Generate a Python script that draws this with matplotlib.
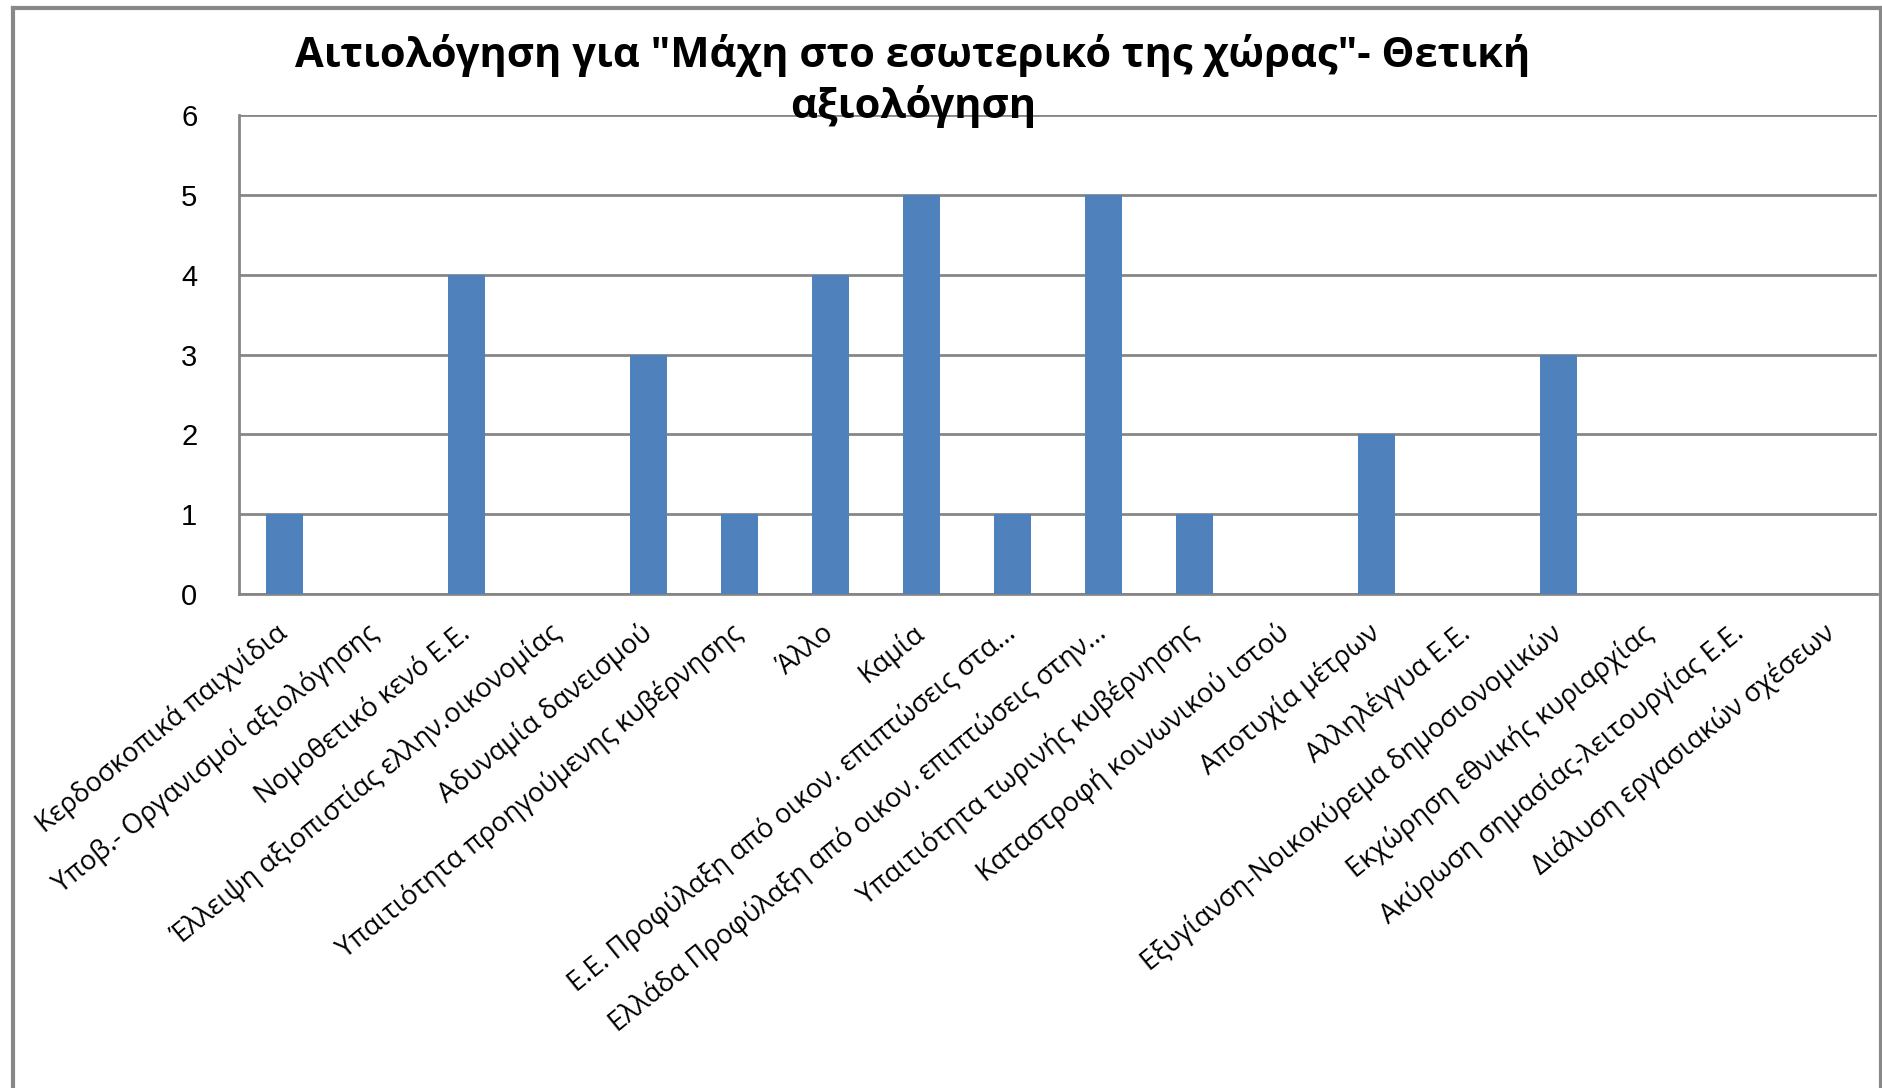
import numpy as np
import matplotlib
matplotlib.use("Agg")
import matplotlib.pyplot as plt

plt.rcParams["font.family"] = ["Open Sans", "DejaVu Sans"]

# data
categories = [
    "Κερδοσκοπικά παιχνίδια",
    "Υποβ.- Οργανισμοί αξιολόγησης",
    "Νομοθετικό κενό Ε.Ε.",
    "Έλλειψη αξιοπιστίας ελλην.οικονομίας",
    "Αδυναμία δανεισμού",
    "Υπαιτιότητα προηγούμενης κυβέρνησης",
    "Άλλο",
    "Καμία",
    "Ε.Ε. Προφύλαξη από οικον. επιπτώσεις στα...",
    "Ελλάδα Προφύλαξη από οικον. επιπτώσεις στην...",
    "Υπαιτιότητα τωρινής κυβέρνησης",
    "Καταστροφή κοινωνικού ιστού",
    "Αποτυχία μέτρων",
    "Αλληλέγγυα Ε.Ε.",
    "Εξυγίανση-Νοικοκύρεμα δημοσιονομικών",
    "Εκχώρηση εθνικής κυριαρχίας",
    "Ακύρωση σημασίας-λειτουργίας Ε.Ε.",
    "Διάλυση εργασιακών σχέσεων",
]
counts = [1, 0, 4, 0, 3, 1, 4, 5, 1, 5, 1, 0, 2, 0, 3, 0, 0, 0]
yticks = [0, 1, 2, 3, 4, 5, 6]

title = 'Αιτιολόγηση για "Μάχη στο εσωτερικό της χώρας"- Θετική\nαξιολόγηση'

grey = "#868686"
bar_color = "#4F81BD"

fig = plt.figure(figsize=(18.83, 10.88), dpi=100)
ax = fig.add_axes([239 / 1883, 1 - 594 / 1088, (1877 - 239) / 1883, (594 - 115) / 1088])

x = np.arange(len(categories))
ax.bar(x, counts, width=0.405, color=bar_color, zorder=3)

ax.set_xlim(-0.5, len(categories) - 0.5)
ax.set_ylim(0, 6)
ax.set_yticks(yticks)
ax.set_yticklabels([str(v) for v in yticks], fontsize=21, family="Liberation Sans")
ax.yaxis.grid(True, color=grey, linewidth=2.0, zorder=1)
ax.tick_params(axis="y", length=0, pad=30)

ax.set_xticks(x)
ax.set_xticklabels(categories, rotation=39, ha="right", va="center",
                   rotation_mode="anchor", fontsize=19.5)
ax.tick_params(axis="x", length=0, pad=26)

for side in ["top", "right"]:
    ax.spines[side].set_visible(False)
for side in ["left", "bottom"]:
    ax.spines[side].set_color(grey)
    ax.spines[side].set_linewidth(2.0)

fig.text(913 / 1883, 1 - 81 / 1088, title, ha="center", va="center",
         fontsize=30, fontweight="bold", linespacing=1.25)

# outer chart frame (no bottom edge visible in the reference)
frame_color = "#888888"
fig.add_artist(plt.Line2D([13 / 1883, 13 / 1883], [0, 1 - 8 / 1088],
                          transform=fig.transFigure, color=frame_color, linewidth=3))
fig.add_artist(plt.Line2D([13 / 1883, 1881 / 1883], [1 - 8 / 1088, 1 - 8 / 1088],
                          transform=fig.transFigure, color=frame_color, linewidth=3))
fig.add_artist(plt.Line2D([1881 / 1883, 1881 / 1883], [0, 1 - 8 / 1088],
                          transform=fig.transFigure, color=frame_color, linewidth=3))

fig.savefig("out.png", dpi=100, facecolor="white")
